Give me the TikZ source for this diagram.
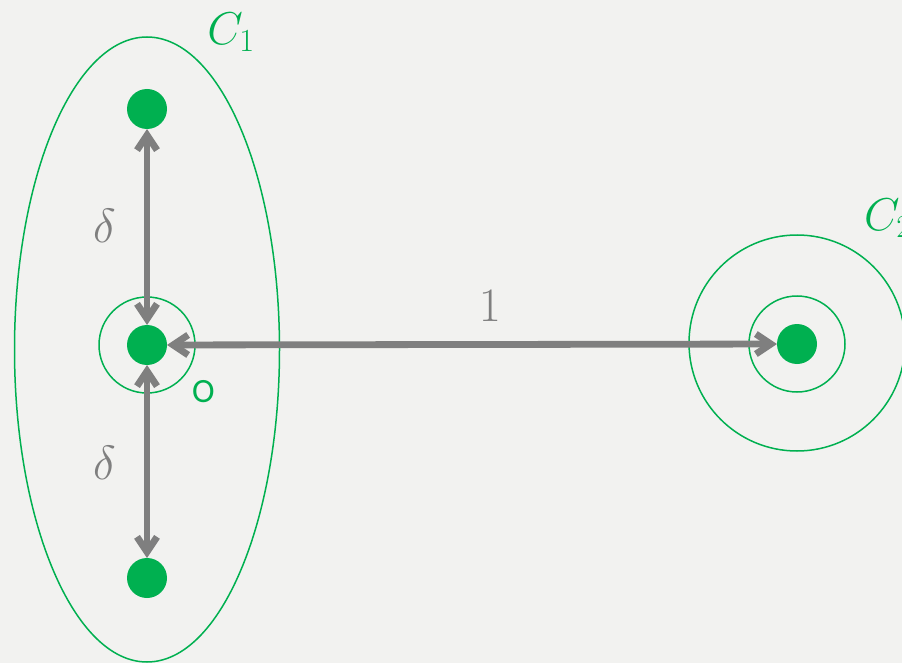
\RequirePackage{fix-cm}
\documentclass[tikz,border=0pt]{standalone}
\usepackage{fontspec}
\newfontfamily\carlito{Carlito}
\usetikzlibrary{arrows.meta}
\definecolor{ptgreen}{HTML}{00B050}
\definecolor{ptgray}{HTML}{7F7F7F}
\definecolor{bggray}{HTML}{F2F2F0}

\begin{document}
\begin{tikzpicture}[x=1pt, y=-1pt,
    dot/.style={circle, fill=ptgreen, inner sep=0pt, outer sep=0pt, minimum size=40pt},
    ring/.style={draw=ptgreen, line width=1.5pt},
    link/.style={draw=ptgray, line width=6.8pt,
      {Straight Barb[length=15pt,width=20pt]}-{Straight Barb[length=15pt,width=20pt]}},
    mathlbl/.style={text=ptgray, font=\fontsize{48}{48}\selectfont, inner sep=0pt},
    setlbl/.style={text=ptgreen, font=\fontsize{46}{46}\selectfont, inner sep=0pt}]
    % 背景
    \fill[bggray] (0,0) rectangle (902,663);
    \useasboundingbox (0,0) rectangle (902,663);

    % 集合 C1 (椭圆) 与 C2 (两个同心圆)
    \draw[ring] (147,349.5) ellipse [x radius=132.5, y radius=312.5];
    \draw[ring] (147,345) circle (48);
    \draw[ring] (797,344) circle (48);
    \draw[ring] (797,343) circle (108);

    % 点
    \node[dot] (top) at (147,109) {};
    \node[dot] (mid) at (147,345) {};
    \node[dot] (bot) at (147,578) {};
    \node[dot] (far) at (797,344) {};

    % 距离箭头
    \draw[link] (top) -- (mid);
    \draw[link] (mid) -- (bot);
    \draw[link] (mid) -- (far);

    % 标注
    \node[mathlbl] (d1) at (105,226) {$\delta$};
    \node[mathlbl] (d2) at (105,463) {$\delta$};
    \node[mathlbl] (one) at (490,306) {$1$};
    \node[text=ptgreen, font=\carlito\fontsize{34}{34}\selectfont, inner sep=0pt] (o) at (203.5,392) {O};
    \node[setlbl] (c1) at (231,32) {$C_1$};
    \node[setlbl, anchor=west] (c2) at (864,218) {$C_2$};
\end{tikzpicture}
\end{document}
